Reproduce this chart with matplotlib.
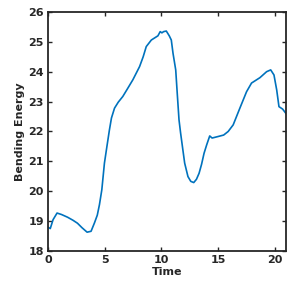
import matplotlib
matplotlib.use("Agg")
import matplotlib.pyplot as plt

# curve
time = [0.0, 0.2, 0.45, 0.8, 1.2, 1.73, 2.2, 2.6, 3.0, 3.45, 3.8, 4.1, 4.35,
        4.54, 4.75, 4.98, 5.2, 5.42, 5.6, 5.87, 6.2, 6.6, 7.0, 7.49, 8.08,
        8.4, 8.67, 9.12, 9.7, 9.9, 10.05, 10.2, 10.44, 10.7, 10.88, 11.03,
        11.27, 11.4, 11.56, 11.7, 11.86, 12.06, 12.35, 12.6, 12.86, 13.1,
        13.33, 13.55, 13.77, 14.0, 14.27, 14.48, 15.0, 15.5, 15.9, 16.34,
        16.93, 17.52, 17.96, 18.7, 19.29, 19.65, 19.94, 20.18, 20.38, 20.7,
        21.0]
energy = [18.8, 18.75, 19.05, 19.27, 19.22, 19.13, 19.03, 18.93, 18.78, 18.63,
          18.66, 18.94, 19.2, 19.55, 20.05, 20.94, 21.5, 22.05, 22.45, 22.78,
          22.98, 23.17, 23.42, 23.73, 24.17, 24.5, 24.84, 25.06, 25.2, 25.34,
          25.3, 25.34, 25.36, 25.2, 25.06, 24.62, 24.06, 23.3, 22.39, 21.95,
          21.5, 20.94, 20.49, 20.33, 20.29, 20.4, 20.6, 20.9, 21.27, 21.55,
          21.85, 21.78, 21.83, 21.88, 22.0, 22.22, 22.78, 23.33, 23.62, 23.8,
          24.0, 24.06, 23.89, 23.39, 22.83, 22.75, 22.6]

x_ticks = [0, 5, 10, 15, 20]
y_ticks = [18, 19, 20, 21, 22, 23, 24, 25, 26]

plt.rcParams['font.family'] = ['DejaVu Sans']
plt.rcParams['font.weight'] = 'bold'
plt.rcParams['font.size'] = 8

fig = plt.figure(figsize=(2.99, 3.0), dpi=100)
ax = fig.add_axes([0.1605, 0.1633, 0.796, 0.797])
ax.plot(time, energy, color=(0, 0.447, 0.741), linewidth=1.2)

ax.set_xlim(0, 21)
ax.set_ylim(18, 26)
ax.set_xticks(x_ticks)
ax.set_yticks(y_ticks)
ax.tick_params(direction='in', top=True, right=True, length=3, width=1,
               colors='#262626', pad=3)
for s in ax.spines.values():
    s.set_linewidth(1.3)
    s.set_color('#262626')
ax.set_xlabel('Time', fontweight='bold', color='#262626', labelpad=1)
ax.set_ylabel('Bending Energy', fontweight='bold', color='#262626', labelpad=2)

fig.savefig('out.png', dpi=100)
